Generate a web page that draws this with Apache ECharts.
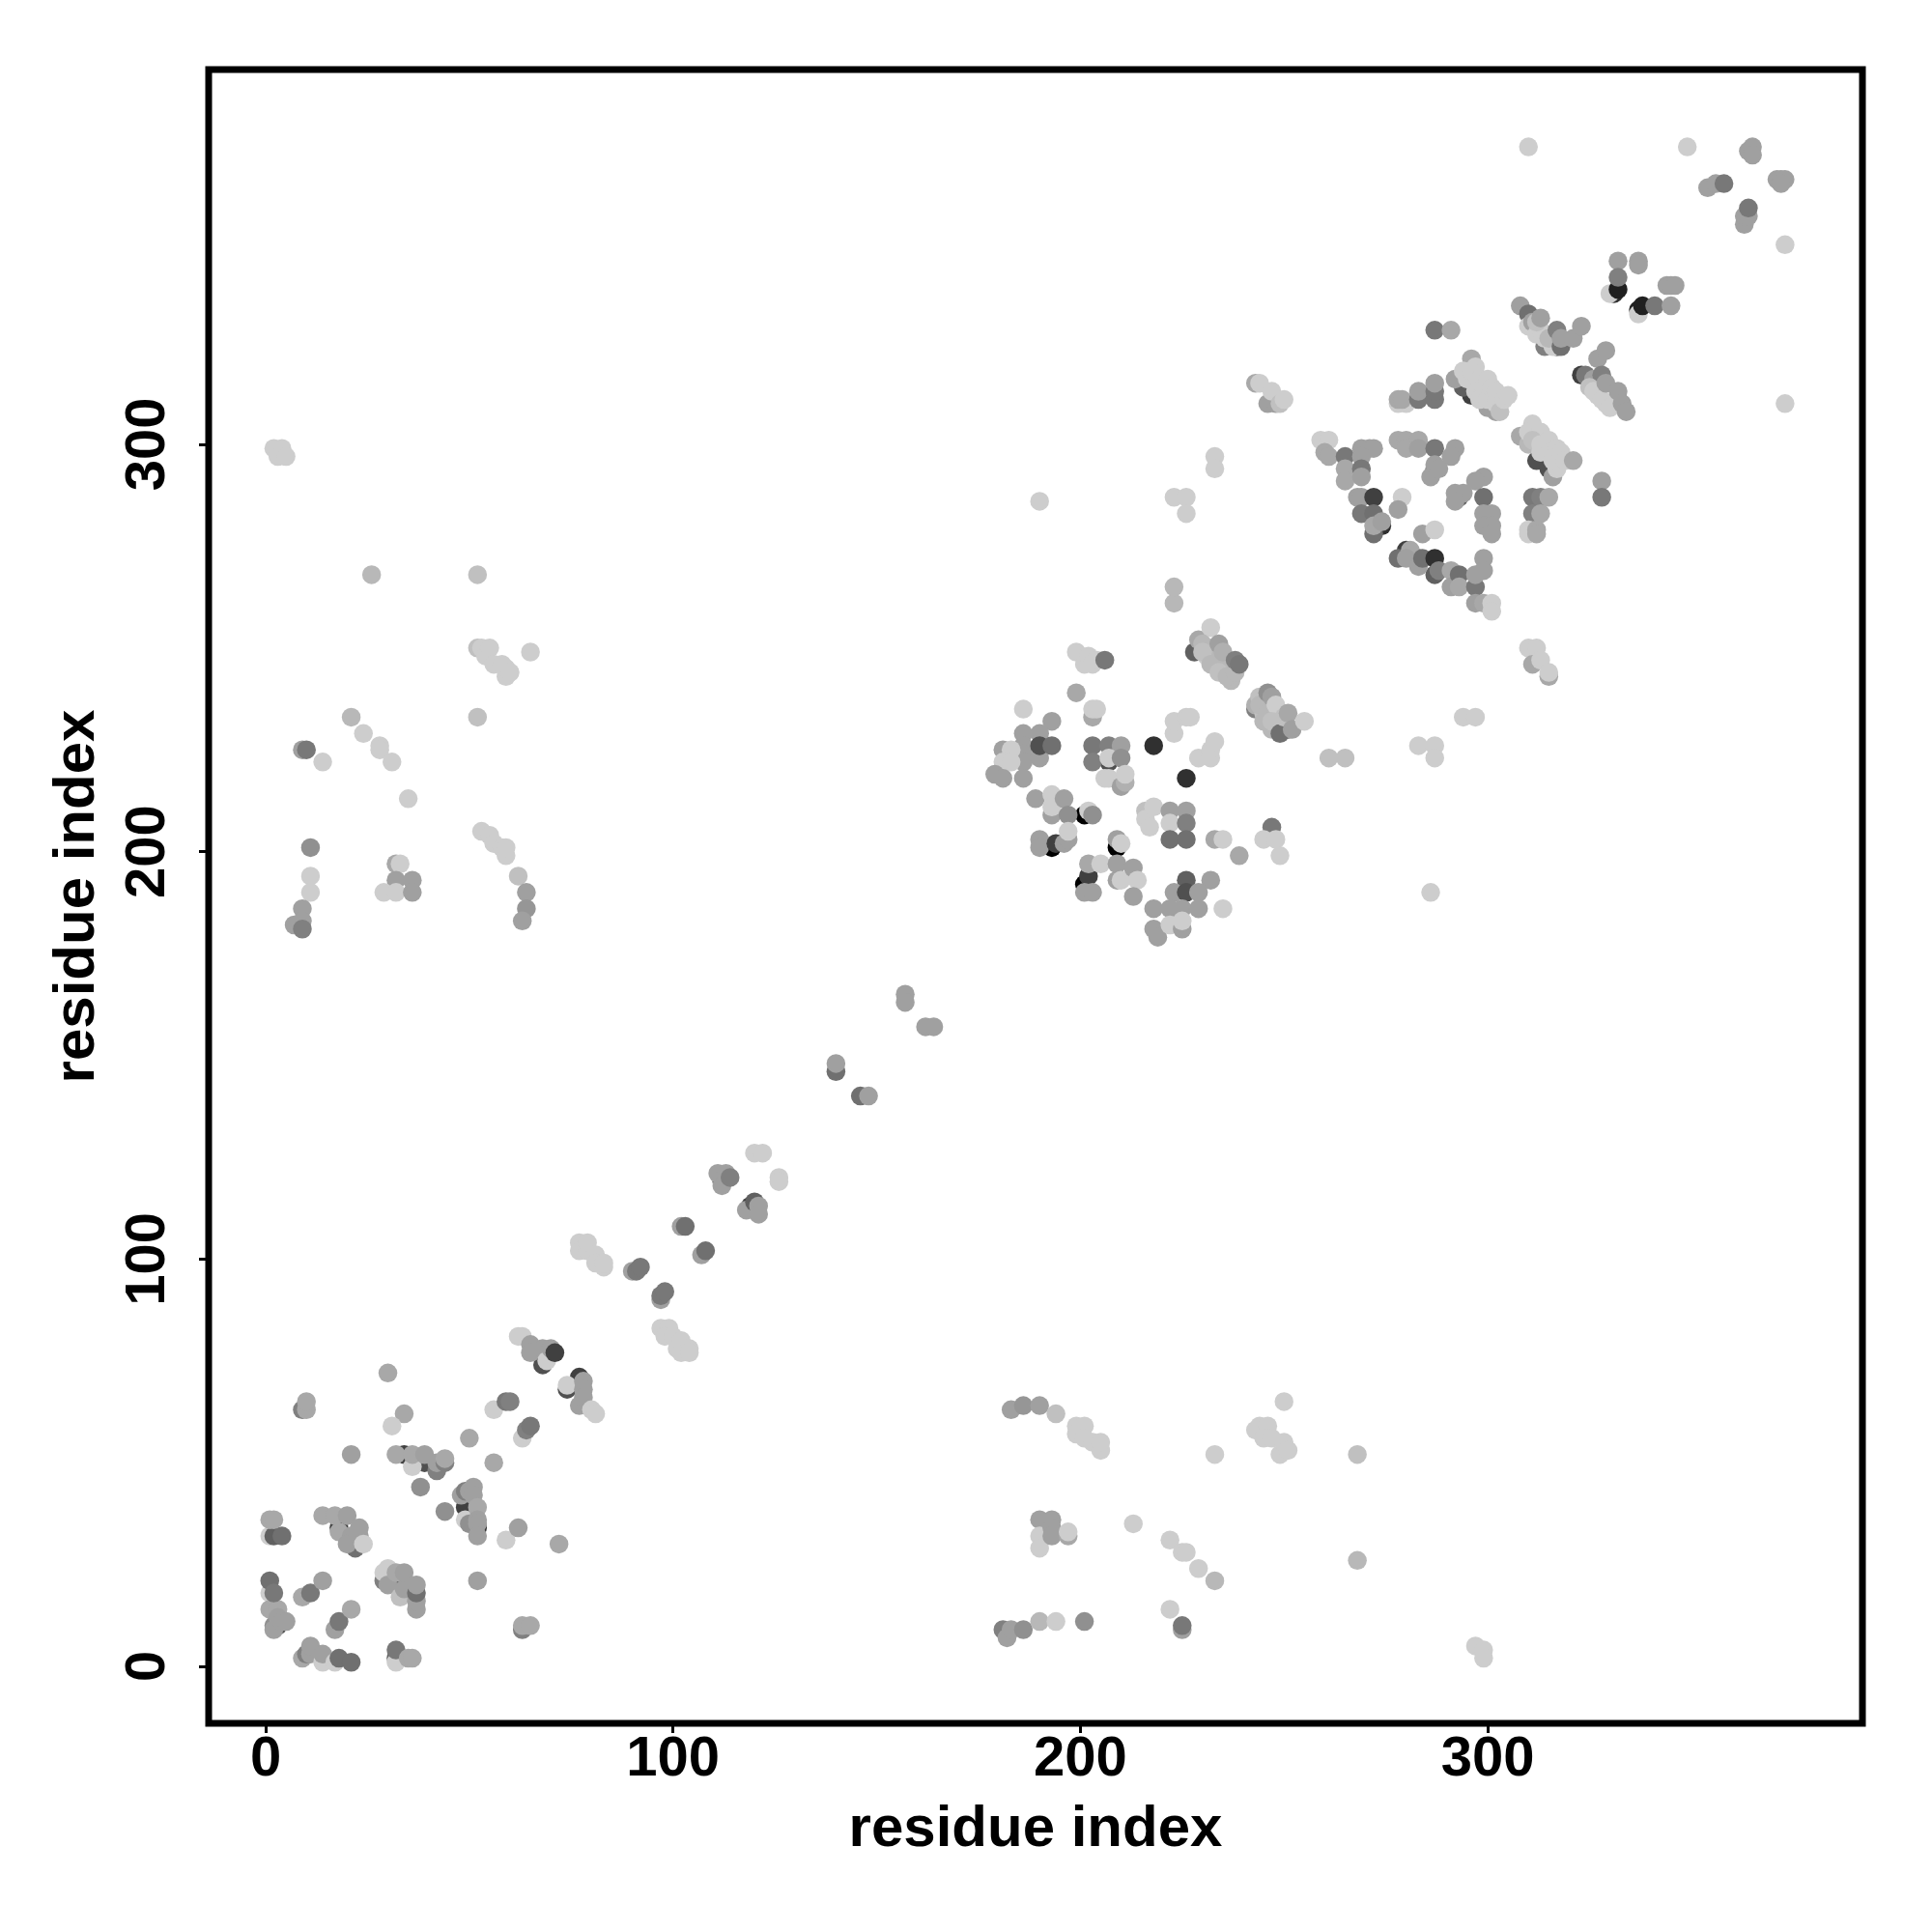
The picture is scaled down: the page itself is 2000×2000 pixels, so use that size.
<!DOCTYPE html>
<html><head><meta charset="utf-8">
<style>html,body{margin:0;padding:0;background:#fff}#c{width:2000px;height:2000px}</style>
<script src="https://cdn.jsdelivr.net/npm/echarts@6/dist/echarts.min.js"></script>
</head><body><div id="c"></div>
<script>
const tickValues = [0, 100, 200, 300];
const xTitle = "residue index";
const yTitle = "residue index";
// each contact: [residue x, residue y, grey level]
const buriedContacts = [
[18,34,64],[33,19,64],[49,39,64],[52,34,48],[112,119,64],[119,113,64],[3,10,80],[32,2,96],[39,50,80],[34,52,64],
[68,74,80],[77,71,64],[74,68,80],[193,201,0],[201,209,0],[209,201,0],[201,192,0],[202,194,64],[274,280,48],[280,274,64],
[283,272,64],[287,268,96],[296,312,64],[294,314,96],[312,296,80],[315,294,80],[317,324,48],[323,317,64],[332,311,96],[251,230,96],
[228,249,96],[207,222,80],[293,287,96],[287,294,96],[337,333,32],[331,337,48]
];
const cornerContacts = [
[1,32,205],[2,32,96],[4,32,112],[1,36,168],[2,36,168],
[1,18,205],[1,14,168],[2,10,144],[2,9,160],[3,14,168],[3,12,160],[4,11,160],[5,11,160],[1,21,112],[2,18,120],
[9,17,168],[11,18,120],[14,21,160],[17,9,160],[18,11,120],[21,14,168],
[9,2,168],[10,3,128],[11,3,160],[11,5,160],[14,1,205],[14,3,160],[17,1,205],[18,2,112],[21,1,112],
[32,1,205],[32,4,120],[35,2,168],[36,2,168],
[14,37,168],[17,37,168],[18,33,168],[20,37,160],[21,32,160],[22,29,112],[20,30,160],[23,32,160],[23,34,160],[24,30,205],
[29,21,128],[29,23,205],[30,24,205],[30,20,160],[32,23,168],[33,17,192],[34,19,160],[34,23,160],[37,14,160],[37,16,160],[37,18,112],[37,20,160],
[63,9,128],[63,10,168],[65,10,168],[52,21,160],[72,30,168],[59,31,205],[62,34,160]
];
const helixContacts = [
[30,72,168],[9,63,128],[10,63,168],[10,65,168],[34,62,168],[31,59,205],[21,52,160],
[32,52,168],[36,49,205],[36,52,168],[39,52,160],[42,48,128],[42,50,160],[44,50,128],[44,51,168],
[38,44,144],[44,38,144],[50,56,168],[56,50,168],
[48,42,160],[49,43,128],[50,43,160],[51,44,160],[51,42,160],[49,36,205],[50,35,144],[52,39,168],[52,36,160],[52,35,160],[52,32,160],
[56,63,205],[59,65,120],[60,65,128],[63,56,205],[64,58,128],[65,59,120],
[63,81,205],[62,81,205],[65,79,160],[65,77,160],[68,78,160],[69,75,205],[70,78,160],[71,77,64],
[74,69,205],[77,64,160],[78,70,160],[78,68,160],[78,66,160],[80,63,205],[81,62,205]
];
const middleContacts = [
[77,104,205],[77,102,205],[79,102,205],[79,104,205],[81,101,205],[81,99,205],[83,98,205],[83,99,205],
[97,83,205],[99,83,205],[98,81,205],[100,81,205],[101,78,205],[102,77,205],[102,80,205],[104,78,205],[104,77,205],
[90,97,160],[91,97,120],[92,98,120],[97,90,160],[97,91,120],[98,92,120],
[102,108,160],[103,108,112],[107,101,160],[108,102,112],
[111,121,160],[113,121,160],[112,118,160],[114,120,128],
[118,112,160],[120,114,96],[121,113,160],[121,111,160],
[120,126,205],[122,126,205],[126,120,205],[126,119,205],
[140,146,112],[140,148,160],[146,140,112],[148,140,160],
[157,165,160],[157,163,160],[162,157,160],[164,157,160]
];
const lowerRightContacts = [
[183,63,160],[186,64,150],[190,64,160],[194,62,192],
[199,59,205],[199,57,205],[201,59,205],[201,56,205],[203,55,205],[205,53,205],[205,55,205],
[233,52,205],[243,58,205],[244,59,205],[246,59,205],[245,56,205],[247,56,205],[249,52,205],[250,55,205],[251,53,205],[250,65,205],[268,52,192],
[190,36,160],[193,36,160],[190,32,205],[190,29,205],[193,34,160],[193,32,160],[197,32,168],[197,33,205],
[213,35,205],[222,31,205],[225,28,205],[226,28,205],[229,24,205],[233,21,184],[268,26,184],
[222,14,205],[225,9,160],[225,10,120],
[181,9,128],[182,7,160],[183,9,160],[186,9,144],[190,11,184],[194,11,205],[201,11,144],
[297,5,205],[299,4,205],[299,2,205]
];
const upperLeftContacts = [
[2,299,205],[4,299,205],[3,297,205],[5,297,205],
[26,268,184],[52,268,192],
[52,250,192],[53,250,205],[54,248,205],[55,250,205],[56,246,205],[59,245,205],[59,243,205],[58,246,205],[60,244,205],[65,249,205],
[52,233,192],[21,233,184],[24,229,205],[28,226,205],[28,225,205],[31,222,205],[35,213,205],
[9,225,160],[10,225,120],[14,222,205],
[11,201,144],[11,194,205],[11,190,205],[9,186,160],[7,182,160],[9,183,160],[9,181,128],
[32,197,168],[33,197,205],[32,193,160],[36,193,160],[29,190,205],[32,190,205],[36,190,160],
[53,205,205],[55,204,205],[56,202,205],[58,201,205],[59,199,205],[59,201,205],[62,194,192],
[64,190,160],[64,186,150],[63,183,160]
];
const centralContacts = [
[186,235,205],[193,232,160],[186,229,160],[190,229,160],[186,226,160],[186,224,160],[186,222,160],[190,223,160],[190,226,80],[193,226,112],
[181,225,160],[183,225,205],[181,222,205],[183,222,205],[179,219,160],[181,218,160],[186,218,160],
[199,249,205],[201,246,205],[202,248,205],[203,246,205],[204,247,205],[206,247,120],[199,239,168],
[203,233,168],[203,235,205],[204,235,205],
[203,226,120],[203,222,128],[207,226,128],[210,226,160],[207,223,205],[210,223,144],
[206,218,205],[207,218,205],[210,216,160],[211,217,176],[211,219,205],
[218,226,48],[226,218,48],
[223,229,205],[223,232,205],[226,233,205],[227,233,205],
[229,223,205],[232,223,205],[232,225,205],[233,227,205],
[189,213,160],[193,209,160],[193,214,205],[193,211,205],[196,213,160],[197,209,144],
[202,210,205],[203,209,144],
[190,203,160],[190,201,160],[194,202,64],[196,202,160],[197,203,160],[197,205,205],
[209,203,160],[210,202,205],
[216,210,192],[216,208,205],[217,206,205],[218,211,205],
[222,210,160],[226,210,160],[222,207,205],[226,207,128],[222,203,112],[226,203,112],
[233,203,168],[235,203,205],[239,199,168],
[247,206,120],[245,203,205],[248,203,205],[249,199,205],
[202,197,168],[205,197,205],[201,190,160],[203,190,160],
[209,197,160],[209,193,160],[210,193,205],[213,196,160],[214,193,205],[213,189,160],
[226,193,96],[232,193,160],[223,190,160],[226,190,80],[229,190,160],
[218,186,160],[222,186,160],[225,186,160],[229,186,160],[235,186,205],
[218,181,160],[219,179,160],[222,182,205],[225,181,160],[225,183,205],
[223,261,184],[223,265,184],
[229,252,168],[232,255,205],[231,248,205],[232,250,192],[233,246,192],[235,244,184],[237,242,184],[237,244,192],
[230,251,184],[232,248,184],[234,247,184],[236,245,184],[230,249,192],[232,246,184],[234,244,192],[236,243,184],[238,244,184],[234,251,160],[235,249,176],[238,247,128],[239,246,120],
[243,235,128],[243,236,176],[245,234,192],[244,238,192],[246,236,192],[248,234,192],[250,232,192],[244,236,184],[246,234,184],[248,232,192],[250,230,192],[245,232,184],[247,230,184],
[246,239,144],[247,238,160],[248,236,205],[247,232,192],[249,229,112],[250,233,192],[251,234,168],[252,230,160],[255,232,205],
[261,223,192],[265,223,192],[283,226,205],[287,226,205],[287,223,205],[294,233,205],[297,233,205],[286,190,205],
[190,286,205],[223,287,205],[226,287,205],[226,283,205],[233,297,205],[233,294,205]
];
const upperRightContacts = [
[243,315,168],[244,315,205],[246,310,160],[248,310,160],[247,313,205],[249,310,192],[250,311,205],
[259,301,205],[261,301,205],[260,298,168],[261,297,168],[265,297,120],[269,299,160],[271,299,160],[272,299,160],[269,297,160],
[265,294,168],[269,294,120],[265,291,168],[269,292,160],[268,287,160],[269,287,160],[272,287,64],
[269,283,120],[272,283,112],[272,278,112],[272,280,168],[274,281,160],[279,287,205],[278,284,160],
[278,301,168],[280,301,168],[280,299,168],[283,301,168],[283,299,160],[287,299,120],[292,299,160],[291,297,160],
[286,292,160],[287,295,160],[288,294,160],
[278,310,205],[280,310,205],[278,311,168],[279,311,168],[283,311,120],[283,313,160],[287,311,120],[287,313,120],[287,315,160],
[287,328,120],[291,328,168],
[292,316,160],[300,309,160],[302,308,160],[296,321,168],
[294,318,205],[297,319,205],[295,316,205],[296,318,205],[298,316,205],[297,313,205],[299,314,205],[300,316,205],[298,311,205],[300,311,205],[301,314,205],[302,313,205],[302,310,205],[303,308,192],[304,311,205],[305,312,205],
[299,292,160],[297,291,160],[292,288,160],[294,288,160],[292,286,160],[299,287,112],[299,283,160],[301,283,160],[299,280,160],[301,280,160],[301,278,160],
[284,278,160],[287,279,205],
[278,272,112],[281,274,168],[280,272,160],[283,270,160],[284,272,112],[287,272,48],[288,269,128],
[291,269,168],[291,265,160],[293,268,112],[293,265,168],[297,265,120],[297,268,160],[299,272,160],[299,269,160],
[297,261,160],[299,261,168],[301,261,205],[301,259,205],
[316,292,160],[308,302,168],[310,300,184],[311,305,205],[310,303,205],[313,303,205],[311,301,192],[313,300,205],[313,298,205],[315,301,205],[315,298,205],[317,294,205],[316,296,205],[317,299,205],[318,298,205],[319,296,205],[321,296,168],
[328,291,160],[328,287,120],[311,287,120],[313,287,128],[315,287,168],[311,283,128],[313,283,168],[310,279,205],[310,278,205],[312,279,168],[312,278,168],
[310,250,205],[312,250,205],[311,246,168],[313,247,205],[315,243,168],[315,244,205],
[314,324,128],[308,334,160],[310,332,112],[310,329,205],[311,330,160],[312,327,205],[313,328,205],[314,326,205],[316,324,205],[312,330,192],[313,331,160],[315,326,184],[317,328,128],[318,324,112],[318,326,160],[321,326,160],[323,329,160],
[324,317,120],[326,316,160],[327,321,160],[329,323,160],[328,317,128],[325,314,192],[327,312,205],[329,310,205],[326,313,205],[328,311,205],[330,309,205],[329,315,160],[332,313,160],[333,310,160],[334,308,160]
];
const terminalContacts = [
[310,373,205],[349,373,205],[364,372,160],[365,373,160],[365,371,160],
[371,365,160],[372,365,160],[373,365,160],[372,364,160],
[354,363,160],[356,364,160],[358,364,120],
[363,354,160],[363,356,160],[364,356,160],[364,358,120],
[373,349,205],[373,310,205],
[332,345,160],[337,345,160],[337,344,160],[330,337,205],[332,338,32],[332,341,128],
[337,332,205],[338,334,32],[341,334,120],[345,334,160],[344,339,160],[345,339,160],[346,339,160]
];
const allContacts = [buriedContacts, cornerContacts, helixContacts, middleContacts, lowerRightContacts, upperLeftContacts, centralContacts, upperRightContacts, terminalContacts].flat();

const tickFont = {color:'#000',fontFamily:'Liberation Sans',fontWeight:'bold',fontSize:58};
const chart = echarts.init(document.getElementById('c'),null,{renderer:'canvas'});
chart.setOption({
  animation:false,
  backgroundColor:'#fff',
  grid:{left:216,top:72,width:1712,height:1712,show:true,borderColor:'#000',borderWidth:7,backgroundColor:'transparent'},
  xAxis:{type:'value',min:-14,max:392,splitLine:{show:false},
    axisLine:{show:false,onZero:false},
    axisTick:{show:true,length:10,lineStyle:{color:'#000',width:3},customValues:tickValues},
    axisLabel:{...tickFont,margin:9,customValues:tickValues,formatter:v=>String(v)},
    name:xTitle,nameLocation:'middle',nameGap:80,nameTextStyle:{...tickFont,fontSize:60}},
  yAxis:{type:'value',min:-14,max:392,splitLine:{show:false},
    axisLine:{show:false,onZero:false},
    axisTick:{show:true,length:10,lineStyle:{color:'#000',width:3},customValues:tickValues},
    axisLabel:{...tickFont,margin:33,rotate:90,customValues:tickValues,formatter:v=>String(v)},
    name:yTitle,nameLocation:'middle',nameGap:106,nameTextStyle:{...tickFont,fontSize:60}},
  series:[{type:'scatter',symbol:'circle',symbolSize:19.5,silent:true,
    data:allContacts.map(c=>({value:[c[0],c[1]],itemStyle:{color:`rgb(${c[2]},${c[2]},${c[2]})`,opacity:1}}))}]
});
</script></body></html>
